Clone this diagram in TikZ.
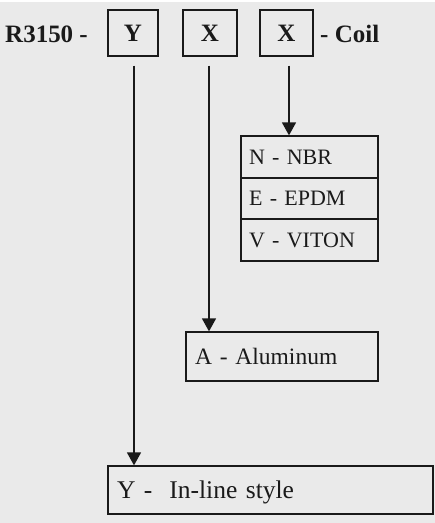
\documentclass[tikz,border=0pt]{standalone}
\usepackage{fontspec}
\setmainfont{Liberation Serif}
\usetikzlibrary{arrows.meta}
\definecolor{bg}{HTML}{EAEAEA}
\definecolor{ink}{HTML}{1A1A1A}
\begin{document}
\begin{tikzpicture}[x=1pt,y=-1pt,
  box/.style={draw=ink,line width=1.3pt,rectangle,inner sep=0pt,text=ink},
  lbl/.style={font=\bfseries\fontsize{25}{25}\selectfont,text=ink,inner sep=0pt},
  item/.style={box,align=left,text height=14pt,text depth=0pt},
  arr/.style={draw=ink,line width=1.5pt,-{Triangle[width=14pt,length=13pt]}}]
\fill[bg] (0,0) rectangle (435,523);
\fill[white] (0,0) rectangle (435,2);
\useasboundingbox (0,0) rectangle (435,523);
% title
\node[lbl,anchor=base west] (r) at (5,42) {R3150 -};
\node[box,lbl,minimum width=50pt,minimum height=46pt,text height=16pt,text depth=0pt] (yb) at (133,33) {Y};
\node[box,lbl,minimum width=54pt,minimum height=46pt,text height=16pt,text depth=0pt] (xa) at (210,33) {X};
\node[box,lbl,minimum width=53pt,minimum height=46pt,text height=16pt,text depth=0pt] (xb) at (286.5,33) {X};
\node[lbl,anchor=base west] (coil) at (320,42) {- Coil};
% material box
\node[item,minimum width=137pt,minimum height=42pt,text width=121pt,font=\fontsize{22}{22}\selectfont] (n) at (309.5,157) {N - NBR};
\node[item,minimum width=137pt,minimum height=41pt,text width=121pt,font=\fontsize{22}{22}\selectfont] (e) at (309.5,198.5) {E - EPDM};
\node[item,minimum width=137pt,minimum height=42pt,text width=121pt,font=\fontsize{22}{22}\selectfont] (v) at (309.5,240) {V - VITON};
% aluminum
\node[item,minimum width=192pt,minimum height=49pt,text width=174pt,text height=16pt,font=\fontsize{23.5}{23.5}\selectfont] (al) at (282,356.5) {A - Aluminum};
% inline
\node[item,minimum width=325pt,minimum height=48pt,text width=307pt,text height=17pt,font=\fontsize{25.5}{25.5}\selectfont] (inl) at (270.5,490) {Y -\ \ In-line style};
% arrows
\draw[arr] ([xshift=1pt,yshift=-9pt]yb.south) -- ([xshift=1pt]yb.south |- inl.north);
\draw[arr] ([xshift=-1pt,yshift=-9pt]xa.south) -- ([xshift=-1pt]xa.south |- al.north);
\draw[arr] ([xshift=2.5pt,yshift=-9pt]xb.south) -- ([xshift=2.5pt]xb.south |- n.north);
\end{tikzpicture}
\end{document}
